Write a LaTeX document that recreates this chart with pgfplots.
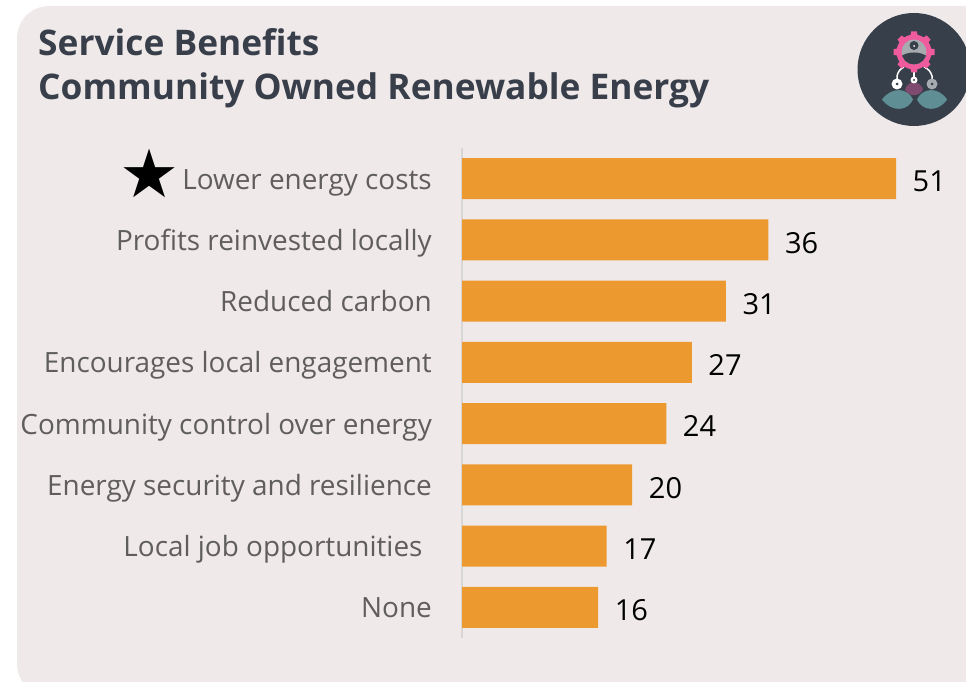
\documentclass[border=0pt]{standalone}
\usepackage{fontspec}
\setmainfont{Open Sans}
\newfontfamily\symbolfont{DejaVu Sans}
\usepackage{pgfplots}
\pgfplotsset{compat=1.18}
\definecolor{panel}{HTML}{EFE9E9}
\definecolor{barfill}{HTML}{EC9A2F}
\definecolor{titleink}{HTML}{383F4B}
\definecolor{labelink}{HTML}{605E5C}
\definecolor{rulegray}{HTML}{D9D6D6}
\definecolor{iconbg}{HTML}{373F4B}
\definecolor{gearpink}{HTML}{EF5B9C}
\definecolor{leafteal}{HTML}{5F8F95}
\definecolor{leafplum}{HTML}{7E4A70}
\definecolor{headgray}{HTML}{A7ABAF}
\pgfplotstableread{
idx value
0 51
1 36
2 31
3 27
4 24
5 20
6 17
7 16
}\benefits
\begin{document}
\begin{tikzpicture}
\clip (0,0) rectangle (966pt,682pt);
\begin{scope}[x=1pt,y=-1pt,shift={(0pt,682pt)}]
  % card behind the chart
  \fill[panel,rounded corners=32pt] (17,6) rectangle (996,696);
  % heading
  \node[anchor=base west,inner sep=0pt,text=titleink,font=\fontsize{35.3}{40}\selectfont\bfseries] at (38,55.5) {Service Benefits};
  \node[anchor=base west,inner sep=0pt,text=titleink,font=\fontsize{35.3}{40}\selectfont\bfseries] at (38,100) {Community Owned Renewable Energy};
  % service badge
  \fill[iconbg] (914,69.5) circle (56.5);
  \draw[white,line width=1.5pt] (914,65) -- (914,82);
  \draw[white,line width=1.5pt] (897,84) -- (897,76) to[bend left=25] (904,67);
  \draw[white,line width=1.5pt] (932,84) -- (932,76) to[bend right=25] (924,67);
  % gear: eight teeth on a ring
  \foreach \a in {0,45,...,315}
    \fill[gearpink,shift={(914,52)},rotate=\a] (-3.8,14) -- (3.8,14) -- (2.9,20.5) -- (-2.9,20.5) -- cycle;
  \fill[gearpink] (914,52) circle (17.5);
  \fill[headgray] (914,52) circle (12.5);
  \begin{scope}
    \clip (914,52) circle (12.5);
    \fill[iconbg] (900,57) .. controls (907,51) and (921,51) .. (928,57) -- (928,66) -- (900,66) -- cycle;
  \end{scope}
  \fill[iconbg] (914,45.5) circle (4.5);
  \fill[white] (914,46) circle (1);
  \fill[leafteal] (882,99.5) .. controls (892,86) and (908,88) .. (913,99.5) .. controls (908,111) and (892,113) .. (882,99.5) -- cycle;
  \fill[leafteal] (917,99.5) .. controls (922,88) and (938,86) .. (947,99.5) .. controls (938,113) and (922,111) .. (917,99.5) -- cycle;
  \fill[leafplum] (905,89.5) .. controls (908,80) and (920,80) .. (923,89.5) .. controls (920,97) and (908,97) .. (905,89.5) -- cycle;
  \fill[white] (897,84) circle (5.5);
  \fill[iconbg] (897,84) circle (1.5);
  \fill[white] (914,80) circle (3.5);
  \fill[iconbg] (914,80) circle (1.2);
  \fill[headgray] (932,84) circle (5.5);
  \fill[iconbg] (932,84) circle (1.5);
\end{scope}
\begin{axis}[
  at={(462pt,44pt)},anchor=south west,
  scale only axis,width=500pt,height=490pt,
  xmin=0,xmax=58.75,
  ymin=-0.5,ymax=7.5,y dir=reverse,
  axis x line=none,
  axis y line*=left,
  axis line style={rulegray,line width=1.5pt,-},
  clip=false,
  ytick={0,...,7},
  major tick length=0pt,
  /pgf/number format/assume math mode=true,
  yticklabels={{\smash{\raisebox{-0.29em}{\fontsize{67}{67}\selectfont\symbolfont\textcolor{black}{★}}}\hspace{3pt}Lower energy costs},
    Profits reinvested locally,Reduced carbon,Encourages local engagement,
    Community control over energy,Energy security and resilience,Local job opportunities\,\,,None},
  yticklabel style={font=\fontsize{27.9}{32}\selectfont,text=labelink,anchor=east,xshift=-30pt,yshift=-0.4pt,inner sep=0pt,text height=20pt,text depth=0pt},
  nodes near coords,
  nodes near coords style={font=\fontsize{29}{32}\selectfont,text=black,anchor=west,inner sep=0pt,xshift=16.5pt,yshift=-2.8pt},
  point meta=x,
]
\addplot[xbar,bar width=41pt,bar shift=0pt,fill=barfill,draw=none] table[x=value,y=idx] {\benefits};
\end{axis}
\end{tikzpicture}
\end{document}
